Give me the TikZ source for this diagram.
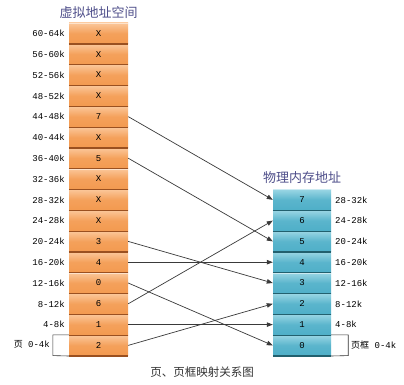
\documentclass[tikz,border=0pt]{standalone}
\usepackage{fontspec}
\setmonofont{Liberation Mono}
\newfontfamily\cjk{Noto Sans CJK SC}
\usetikzlibrary{arrows.meta}
\definecolor{orA}{HTML}{FBC79A}
\definecolor{orB}{HTML}{F39A50}
\definecolor{orLine}{HTML}{9A5020}
\definecolor{cyA}{HTML}{9AD6E4}
\definecolor{cyB}{HTML}{4FAFC8}
\definecolor{cyLine}{HTML}{22606E}
\definecolor{titleC}{HTML}{4E4E8A}
\definecolor{arrC}{HTML}{3A3A3A}
\tikzset{
  vcell/.style={minimum width=59pt, minimum height=20.8pt, inner sep=0pt,
    top color=orA, bottom color=orB, middle color=orB!85!orA, font=\ttfamily\fontsize{9}{9}\selectfont},
  pcell/.style={minimum width=58pt, minimum height=20.8pt, inner sep=0pt,
    top color=cyA, bottom color=cyB, middle color=cyB!85!cyA, font=\ttfamily\fontsize{9}{9}\selectfont},
  lab/.style={font=\ttfamily\fontsize{9}{9}\selectfont, inner sep=0pt},
  title/.style={font=\cjk\fontsize{13}{13}\selectfont, text=titleC, inner sep=0pt},
  map/.style={draw=arrC, line width=0.7pt, -{Triangle[length=6pt,width=4.5pt]}},
  bracket/.style={draw=black!80, line width=0.6pt}
}
\begin{document}
\begin{tikzpicture}[x=1pt,y=-1pt]
\useasboundingbox[fill=white] (0,0) rectangle (404,385);
% virtual pages
\foreach \i/\t/\l in {0/2/{}, 1/1/4-8k, 2/6/8-12k, 3/0/12-16k, 4/4/16-20k, 5/3/20-24k,
  6/X/24-28k, 7/X/28-32k, 8/X/32-36k, 9/5/36-40k, 10/X/40-44k, 11/7/44-48k,
  12/X/48-52k, 13/X/52-56k, 14/X/56-60k, 15/X/60-64k}{
  \node[vcell] (v\i) at (98.5, {355.8-(\i+0.5)*20.8}) {\t};
  \draw[orLine, line width=1.2pt] (v\i.south west) -- (v\i.south east);
  \draw[white, opacity=0.5, line width=0.6pt] ([yshift=-0.4pt]v\i.north west) -- ([yshift=-0.4pt]v\i.north east);
  \node[lab, anchor=east] (vl\i) at (65, {355.8-(\i+0.5)*20.8}) {\l};
}
% physical frames
\foreach \i/\l in {0/{}, 1/4-8k, 2/8-12k, 3/12-16k, 4/16-20k, 5/20-24k, 6/24-28k, 7/28-32k}{
  \node[pcell] (p\i) at (302, {355.8-(\i+0.5)*20.8}) {\i};
  \draw[cyLine, line width=1.2pt] (p\i.south west) -- (p\i.south east);
  \draw[white, opacity=0.5, line width=0.6pt] ([yshift=-0.4pt]p\i.north west) -- ([yshift=-0.4pt]p\i.north east);
  \node[lab, anchor=west] (pl\i) at (335, {355.8-(\i+0.5)*20.8}) {\l};
}
% titles
\node[title] (vt) at (98.5, 13) {虚拟地址空间};
\node[title] (pt) at (302, 178) {物理内存地址};
\node[font=\cjk\fontsize{11.5}{11.5}\selectfont, text=black!80, inner sep=0pt] (cap) at (202, 372) {页、页框映射关系图};
% bottom brackets
\draw[bracket] (v0.north west) -- ++(-16,0) coordinate (lb1) -- ++(0,20.8) coordinate (lb2) -- (v0.south west);
\node[lab, anchor=east] (vl0) at (50, 344.6) {{\cjk 页} 0-4k};
\draw[bracket] (p0.north east) -- ++(17,0) coordinate (rb1) -- ++(0,20.8) coordinate (rb2) -- (p0.south east);
\node[lab, anchor=west] (pl0) at (351, 344.6) {{\cjk 页框} 0-4k};
% mappings
\draw[map] (v11.east) -- (p7.west);
\draw[map] (v9.east) -- (p5.west);
\draw[map] (v5.east) -- (p3.west);
\draw[map] (v4.east) -- (p4.west);
\draw[map] (v3.east) -- (p0.west);
\draw[map] (v2.east) -- (p6.west);
\draw[map] (v1.east) -- (p1.west);
\draw[map] (v0.east) -- (p2.west);
\end{tikzpicture}
\end{document}
